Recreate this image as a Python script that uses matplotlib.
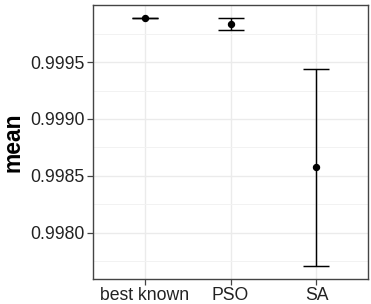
import numpy as np
import matplotlib
matplotlib.use('Agg')
import matplotlib.pyplot as plt
from matplotlib.ticker import MultipleLocator

plt.rcParams['font.family'] = ['Liberation Sans', 'DejaVu Sans']

# data
methods = ['best known', 'PSO', 'SA']
means = [0.999885, 0.999834, 0.998573]
lower = [0.999885, 0.999782, 0.997707]
upper = [0.999885, 0.999885, 0.999436]
y_ticks = [0.9980, 0.9985, 0.9990, 0.9995]

fig = plt.figure(figsize=(3.71, 3.04), dpi=100)
ax = fig.add_axes([93 / 371, 1 - 278.7 / 304, 275 / 371, 273.7 / 304])

x = np.arange(1, len(methods) + 1)
m = np.array(means)
yerr = np.vstack([m - np.array(lower), np.array(upper) - m])
ax.errorbar(x, m, yerr=yerr, fmt='o', color='black', ms=4.3,
            elinewidth=1.05, capsize=9.7, capthick=1.05, zorder=3)

ax.set_xlim(0.4, 3.6)
ax.set_ylim(0.997595, 1.000002)
ax.set_xticks(x)
ax.set_xticklabels(methods)
ax.set_yticks(y_ticks)
ax.set_yticklabels(['%.4f' % v for v in y_ticks])
ax.yaxis.set_minor_locator(MultipleLocator(0.00025))

ax.grid(True, which='major', color='#EBEBEB', lw=1.0, zorder=0)
ax.grid(True, which='minor', axis='y', color='#F2F2F2', lw=0.7, zorder=0)
ax.set_axisbelow(True)

for s in ax.spines.values():
    s.set_color('#444444')
    s.set_linewidth(1.0)

ax.tick_params(which='major', length=4, width=0.9, color='#444444',
               labelsize=12.7, labelcolor='#222222', pad=2)
ax.tick_params(which='minor', length=0)

ax.set_ylabel('mean', fontsize=16.5, fontweight='bold', labelpad=4)

fig.savefig('out.png', dpi=100)
